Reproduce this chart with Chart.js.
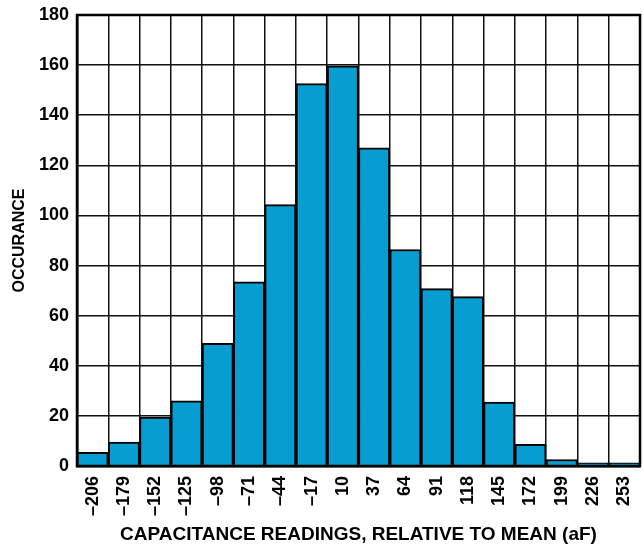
<!DOCTYPE html>
<html>
<head>
<meta charset="utf-8">
<script src="https://cdn.jsdelivr.net/npm/chart.js@4/dist/chart.umd.min.js"></script>
<style>
  html, body { margin: 0; padding: 0; background: #fff; }
  #wrap { width: 643px; height: 544px; }
</style>
</head>
<body>
<div id="wrap"><canvas id="grafico" width="643" height="544"></canvas></div>
<script>
const categorias = ["–206", "–179", "–152", "–125", "–98", "–71", "–44", "–17", "10", "37", "64", "91", "118", "145", "172", "199", "226", "253"];
const ocorrencias = [5.5, 9.5, 19.5, 26, 49, 73.5, 104.3, 152.6, 159.7, 127, 86.4, 70.8, 67.6, 25.5, 8.6, 2.6, 1.3, 1.3];
const ticksY = [0, 20, 40, 60, 80, 100, 120, 140, 160, 180];

const fonte = "'Liberation Sans', Arial, sans-serif";

const ctx = document.getElementById('grafico').getContext('2d');
new Chart(ctx, {
  type: 'bar',
  data: {
    labels: categorias,
    datasets: [{
      data: ocorrencias,
      backgroundColor: '#079dd0',
      borderColor: '#000',
      borderWidth: 2,
      barPercentage: 1,
      categoryPercentage: 1
    }]
  },
  options: {
    responsive: false,
    animation: false,
    layout: { padding: { top: 15, right: 3, left: 10, bottom: 0 } },
    plugins: { legend: { display: false }, tooltip: { enabled: false } },
    scales: {
      x: {
        offset: true,
        grid: { color: '#111', lineWidth: 1.5, offset: true, drawTicks: false },
        border: { color: '#000', width: 2.5 },
        ticks: {
          color: '#000',
          font: { family: fonte, size: 18, weight: 'bold' },
          minRotation: 90,
          maxRotation: 90,
          padding: 10,
          autoSkip: false
        },
        title: {
          display: true,
          text: 'CAPACITANCE READINGS, RELATIVE TO MEAN (aF)',
          color: '#000',
          font: { family: fonte, size: 19, weight: 'bold', lineHeight: 1 },
          padding: { top: 0, bottom: 0 }
        },
        afterFit: (scale) => {
          scale.height = 78;
          scale.paddingLeft = 0;
          scale.paddingRight = 0;
        }
      },
      y: {
        min: 0,
        max: 180,
        afterBuildTicks: (scale) => { scale.ticks = ticksY.map(v => ({ value: v })); },
        grid: { color: '#111', lineWidth: 1.5, drawTicks: false },
        border: { color: '#000', width: 2.5 },
        ticks: {
          color: '#000',
          font: { family: fonte, size: 18, weight: 'bold' },
          padding: 8
        },
        title: {
          display: true,
          text: 'OCCURANCE',
          color: '#000',
          font: { family: fonte, size: 16, weight: 'bold', lineHeight: 1.2 },
          padding: { top: 0, bottom: 0 }
        },
        afterFit: (scale) => {
          scale.width = 67;
          scale.paddingTop = 0;
          scale.paddingBottom = 0;
        }
      }
    }
  },
  plugins: [{
    id: 'moldura',
    afterDraw(chart) {
      const a = chart.chartArea;
      const c = chart.ctx;
      c.save();
      c.strokeStyle = '#000';
      c.lineWidth = 2.5;
      c.strokeRect(a.left, a.top, a.right - a.left, a.bottom - a.top);
      c.restore();
    }
  }]
});
</script>
</body>
</html>
